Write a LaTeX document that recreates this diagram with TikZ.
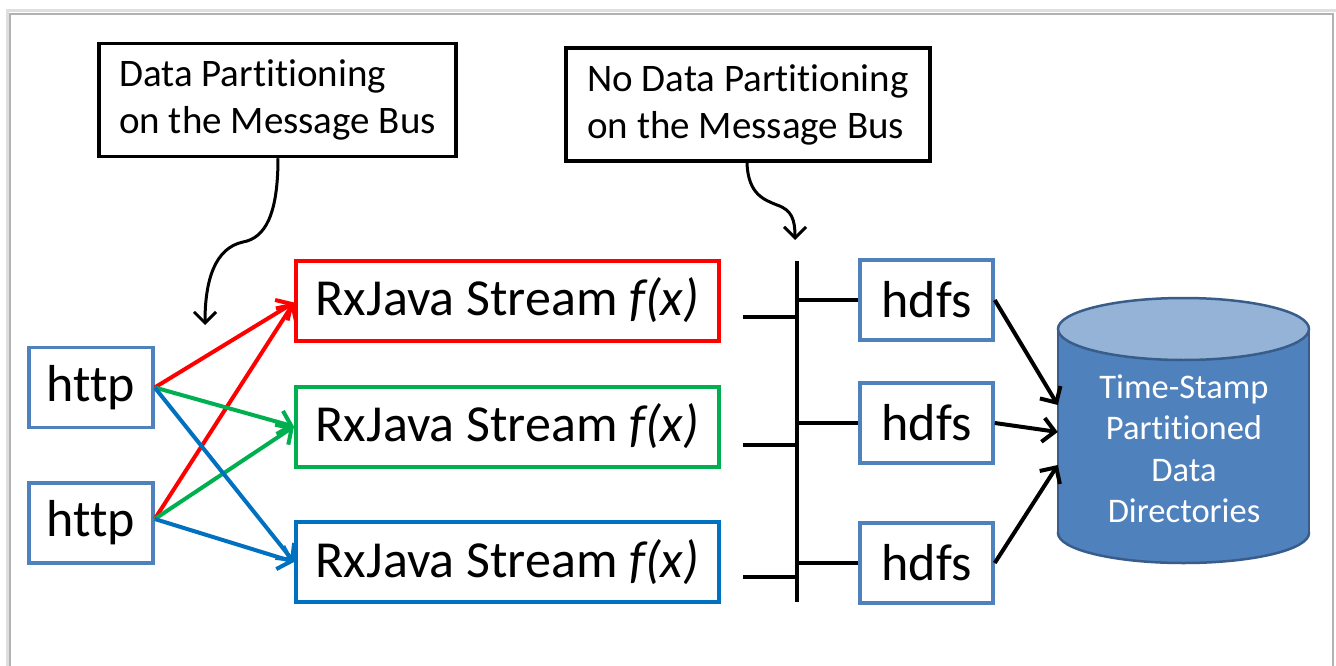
\documentclass[tikz,border=0pt]{standalone}
\usepackage{fontspec}
\setmainfont[Ligatures=NoCommon]{Carlito}
\usetikzlibrary{arrows.meta,calc}
\definecolor{boxblue}{HTML}{4F81BD}
\definecolor{sred}{HTML}{FF0000}
\definecolor{sgreen}{HTML}{00B050}
\definecolor{sblue}{HTML}{0070C0}
\definecolor{cylbody}{HTML}{4F81BD}
\definecolor{cyltop}{HTML}{95B3D7}
\definecolor{cyledge}{HTML}{385D8A}
\tikzset{
  srcbox/.style={draw=boxblue, line width=3.5pt, minimum width=124pt, minimum height=80pt, inner sep=0pt, font=\fontsize{52}{58}\selectfont},
  hdfsbox/.style={draw=boxblue, line width=3.5pt, minimum width=133pt, minimum height=80pt, inner sep=0pt, font=\fontsize{52}{58}\selectfont},
  streambox/.style={line width=4pt, minimum width=423pt, minimum height=80pt, inner sep=0pt, font=\fontsize{52}{58}\selectfont},
  callout/.style={draw=black, line width=3.5pt, inner sep=0pt, minimum height=113pt, align=left, font=\fontsize{39}{47}\selectfont},
  feed/.style={line width=4pt, -{Straight Barb[length=12pt,width=24pt]}},
  busline/.style={line width=4pt, black},
  sink/.style={line width=4pt, black, -{Straight Barb[length=12pt,width=24pt]}},
  pointer/.style={line width=3pt, black, -{Straight Barb[length=11pt,width=22pt]}}
}
\begin{document}
\begin{tikzpicture}[x=1pt,y=-1pt]
\useasboundingbox (0,0) rectangle (1336,666);
\fill[white] (0,0) rectangle (1336,666);
% slide frame
\draw[gray!25, line width=3pt] (7,680) -- (7,11) -- (1336,11);
\draw[gray!60, line width=1.2pt] (10,680) -- (10,14) -- (1333,14) -- (1333,680);

% callouts
\node[callout, minimum width=357pt] (c1) at (277.5,100) {Data Partitioning\\on the Message Bus};
\node[callout, minimum width=364pt] (c2) at (748,104.5) {No Data Partitioning\\on the Message Bus};

% sources
\node[srcbox] (h1) at (91,387.5) {http};
\node[srcbox] (h2) at (91,523) {http};

% streams
\node[streambox, draw=sred] (s1) at (507.5,300.5) {RxJava Stream \textit{f(x)}};
\node[streambox, draw=sgreen] (s2) at (507.5,426.5) {RxJava Stream \textit{f(x)}};
\node[streambox, draw=sblue] (s3) at (507.5,562) {RxJava Stream \textit{f(x)}};

% hdfs
\node[hdfsbox] (d1) at (926.5,300) {hdfs};
\node[hdfsbox] (d2) at (926.5,423) {hdfs};
\node[hdfsbox] (d3) at (926.5,563) {hdfs};

% cylinder
\fill[cylbody] (1183.5,533) ellipse [x radius=125.5pt, y radius=30pt];
\draw[cyledge, line width=2.5pt] (1183.5,533) ellipse [x radius=125.5pt, y radius=30pt];
\fill[cylbody] (1058,329) rectangle (1309,533);
\draw[cyledge, line width=2.5pt] (1058,329) -- (1058,533) (1309,329) -- (1309,533);
\draw[cyledge, line width=2.5pt, fill=cyltop] (1183.5,329) ellipse [x radius=125.5pt, y radius=31pt];
\node[minimum width=251pt, minimum height=265pt, inner sep=0pt] (db) at (1183.5,430.5) {};
\node[text=white, align=center, font=\fontsize{34.5}{41.5}\selectfont] (dbtext) at (1184,449) {Time-Stamp\\Partitioned\\Data\\Directories};

% feed arrows
\coordinate (o1) at ($(h1.east)+(0,0)$);
\coordinate (o2) at ($(h2.east)+(0,-4)$);
\coordinate (t1) at ($(s1.west)+(0,2)$);
\draw[feed, sred] (o1) -- (t1);
\draw[feed, sred] (o2) -- (t1);
\draw[feed, sgreen] (o1) -- (s2.west);
\draw[feed, sgreen] (o2) -- (s2.west);
\draw[feed, sblue] (o1) -- (s3.west);
\draw[feed, sblue] (o2) -- (s3.west);

% message bus
\coordinate (busTop) at (797,261);
\coordinate (busBot) at (797,602);
\draw[busline] (busTop) -- (busBot);
\coordinate (st1) at (743,317);
\coordinate (st2) at (743,445);
\coordinate (st3) at (743,577);
\draw[busline] (st1) -- (st1 -| busTop);
\draw[busline] (st2) -- (st2 -| busTop);
\draw[busline] (st3) -- (st3 -| busTop);
\draw[busline] (d1.west -| busTop) -- (d1.west);
\draw[busline] (d2.west -| busTop) -- (d2.west);
\draw[busline] (d3.west -| busTop) -- (d3.west);

% hdfs to storage
\draw[sink] (d1.east) -- ($(db.west)+(0,-25.5)$);
\draw[sink] (d2.east) -- ($(db.west)+(0,1.5)$);
\draw[sink] (d3.east) -- ($(db.west)+(0,34.5)$);

% callout pointers
\coordinate (p1) at (205,325);
\coordinate (p2) at (795,240);
\draw[pointer] (c1.south -| 278,0) .. controls (278,215) and (265,238) .. (243,242) .. controls (215,248) and (205,280) .. (p1);
\draw[pointer] (c2.south -| 747,0) .. controls (748,195) and (765,200) .. (777,205) .. controls (792,210) and (795,220) .. (p2);
\end{tikzpicture}
\end{document}
